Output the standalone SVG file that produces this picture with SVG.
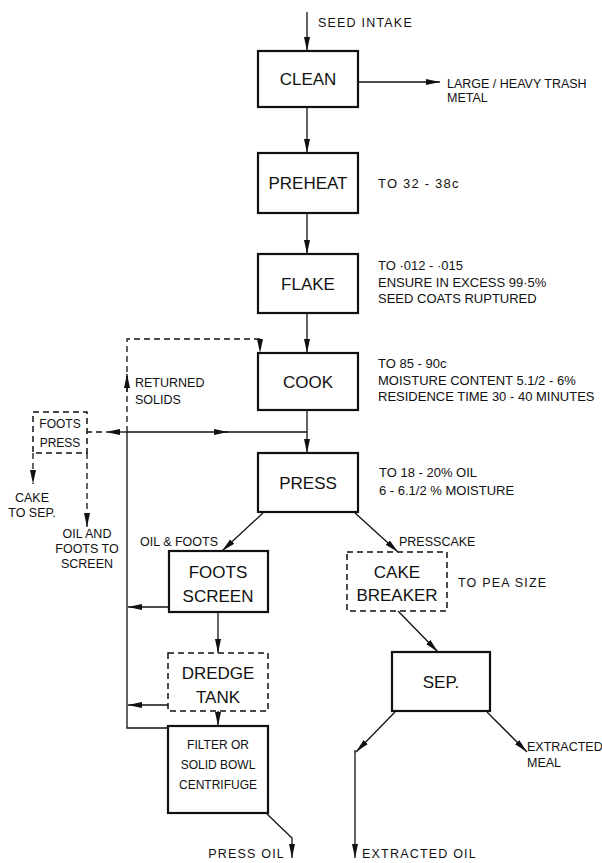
<svg xmlns="http://www.w3.org/2000/svg" width="602" height="863" viewBox="0 0 602 863">
<style>
text{font-family:"Liberation Sans","DejaVu Sans",sans-serif;fill:#111}
.box{fill:#fff;stroke:#111;stroke-width:2.2}
.dbox{fill:#fff;stroke:#111;stroke-width:1.5;stroke-dasharray:6 4}
.lbl{font-size:17px;text-anchor:middle}
.lbs{font-size:12px;text-anchor:middle}
.note{font-size:13px}
.sm{font-size:12.5px}
.w{letter-spacing:1.2px}
.c{fill:none;stroke:#111;stroke-width:1.3}
.d{fill:none;stroke:#111;stroke-width:1.3;stroke-dasharray:6 4}
</style>
<defs>
<marker id="a" viewBox="0 0 14 8" refX="14" refY="4" markerWidth="14" markerHeight="8" markerUnits="userSpaceOnUse" orient="auto">
<path d="M0,1 L14,4 L0,7 Z" fill="#111"/>
</marker>
</defs>
<g id="connectors">
<line class="c" x1="307" y1="12" x2="307" y2="51" marker-end="url(#a)"/>
<line class="c" x1="358" y1="82" x2="440" y2="82" marker-end="url(#a)"/>
<line class="c" x1="307" y1="107" x2="307" y2="153" marker-end="url(#a)"/>
<line class="c" x1="307" y1="213" x2="307" y2="254" marker-end="url(#a)"/>
<line class="c" x1="307" y1="313" x2="307" y2="353" marker-end="url(#a)"/>
<line class="c" x1="307" y1="410" x2="307" y2="453" marker-end="url(#a)"/>
<line class="c" x1="127" y1="432" x2="228" y2="432" marker-end="url(#a)"/>
<line class="c" x1="226" y1="432" x2="307" y2="432"/>
<line class="c" x1="127" y1="432" x2="106" y2="432" marker-end="url(#a)"/>
<line class="d" x1="102" y1="432" x2="87" y2="432" stroke-dasharray="4 3"/>
<path class="d" d="M127,432 V339 H260 V353" marker-end="url(#a)"/>
<line class="c" x1="127" y1="392" x2="127" y2="374" marker-end="url(#a)"/>
<path class="c" d="M127,432 V728 H168"/>
<line class="c" x1="169" y1="607" x2="128" y2="607" marker-end="url(#a)"/>
<line class="c" x1="168" y1="705" x2="128" y2="705" marker-end="url(#a)"/>
<line class="c" x1="263" y1="513" x2="222" y2="551" marker-end="url(#a)"/>
<line class="c" x1="355" y1="513" x2="398" y2="552" marker-end="url(#a)"/>
<line class="c" x1="218" y1="612" x2="218" y2="653" marker-end="url(#a)"/>
<line class="c" x1="218" y1="711" x2="218" y2="726" marker-end="url(#a)"/>
<path class="c" d="M267,814 L292,838 V858" marker-end="url(#a)"/>
<line class="c" x1="398" y1="611" x2="438" y2="652" marker-end="url(#a)"/>
<line class="c" x1="395" y1="712" x2="356" y2="752" marker-end="url(#a)"/>
<line class="c" x1="355" y1="750" x2="355" y2="858" marker-end="url(#a)"/>
<line class="c" x1="487" y1="712" x2="527" y2="752" marker-end="url(#a)"/>
<line class="d" x1="33" y1="453" x2="33" y2="484" marker-end="url(#a)"/>
<line class="d" x1="87" y1="453" x2="87" y2="527" marker-end="url(#a)"/>
</g>
<g id="clean"><rect class="box" x="258" y="51" width="100" height="56"/><text class="lbl" x="308" y="85">CLEAN</text></g>
<g id="preheat"><rect class="box" x="258" y="153" width="100" height="60"/><text class="lbl" x="308" y="189">PREHEAT</text></g>
<g id="flake"><rect class="box" x="258" y="254" width="100" height="59"/><text class="lbl" x="308" y="290">FLAKE</text></g>
<g id="cook"><rect class="box" x="258" y="353" width="100" height="57"/><text class="lbl" x="308" y="388">COOK</text></g>
<g id="press"><rect class="box" x="258" y="453" width="100" height="59"/><text class="lbl" x="308" y="489">PRESS</text></g>
<g id="foots-screen"><rect class="box" x="169" y="551" width="99" height="61"/><text class="lbl" x="218" y="578">FOOTS</text><text class="lbl" x="218" y="602">SCREEN</text></g>
<g id="cake-breaker"><rect class="dbox" x="347" y="552" width="100" height="59"/><text class="lbl" x="397" y="578">CAKE</text><text class="lbl" x="397" y="601">BREAKER</text></g>
<g id="dredge-tank"><rect class="dbox" x="168" y="653" width="100" height="58"/><text class="lbl" x="218" y="679">DREDGE</text><text class="lbl" x="218" y="703">TANK</text></g>
<g id="filter"><rect class="box" x="168" y="726" width="100" height="87"/><text class="lbs" x="218" y="749">FILTER OR</text><text class="lbs" x="218" y="769">SOLID BOWL</text><text class="lbs" x="218" y="789">CENTRIFUGE</text></g>
<g id="sep"><rect class="box" x="392" y="652" width="98" height="59"/><text class="lbl" x="441" y="688">SEP.</text></g>
<g id="foots-press"><rect class="dbox" x="33" y="412" width="54" height="41" stroke-dasharray="4 3"/><text class="lbs" x="60" y="428">FOOTS</text><text class="lbs" x="60" y="447">PRESS</text></g>
<g id="labels">
<text class="sm w" x="318" y="27">SEED INTAKE</text>
<text class="sm" x="447" y="88">LARGE / HEAVY TRASH</text>
<text class="sm" x="447" y="102">METAL</text>
<text class="note w" x="378" y="188">TO 32 - 38c</text>
<text class="note" x="378" y="270">TO ·012 - ·015</text>
<text class="note" x="378" y="287">ENSURE IN EXCESS 99·5%</text>
<text class="note" x="378" y="303">SEED COATS RUPTURED</text>
<text class="note" x="378" y="368">TO 85 - 90c</text>
<text class="note" x="378" y="385">MOISTURE CONTENT 5.1/2 - 6%</text>
<text class="note" x="378" y="401">RESIDENCE TIME 30 - 40 MINUTES</text>
<text class="sm" x="135" y="387">RETURNED</text>
<text class="sm" x="135" y="404">SOLIDS</text>
<text class="sm" x="32" y="502" text-anchor="middle">CAKE</text>
<text class="sm" x="32" y="517" text-anchor="middle">TO SEP.</text>
<text class="sm" x="87" y="538" text-anchor="middle">OIL AND</text>
<text class="sm" x="87" y="553" text-anchor="middle">FOOTS TO</text>
<text class="sm" x="87" y="568" text-anchor="middle">SCREEN</text>
<text class="note" x="379" y="477">TO 18 - 20% OIL</text>
<text class="note" x="379" y="495">6 - 6.1/2 % MOISTURE</text>
<text class="sm" x="140" y="546">OIL &amp; FOOTS</text>
<text class="sm" x="399" y="546">PRESSCAKE</text>
<text class="sm w" x="458" y="587">TO PEA SIZE</text>
<text class="sm" x="527" y="751" font-size="11px">EXTRACTED</text>
<text class="sm" x="527" y="767" font-size="11px">MEAL</text>
<text class="sm w" x="285" y="858" text-anchor="end">PRESS OIL</text>
<text class="sm w" x="362" y="858">EXTRACTED OIL</text>
</g>
</svg>
